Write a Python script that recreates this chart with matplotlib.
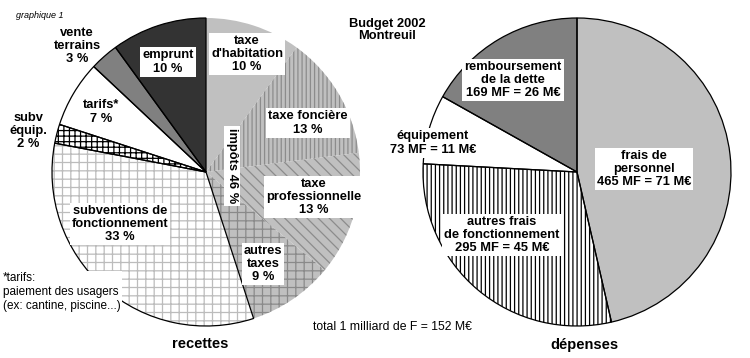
import matplotlib
matplotlib.use('Agg')
import matplotlib.pyplot as plt

plt.rcParams['font.family'] = ['Liberation Sans Narrow', 'Liberation Sans', 'DejaVu Sans']
plt.rcParams['hatch.linewidth'] = 0.9

# recettes (clockwise from 12 o'clock)
rec_labels = ["taxe\nd'habitation", "taxe foncière", "taxe\nprofessionnelle", "autres\ntaxes",
              "subventions de\nfonctionnement", "subv\néquip.", "tarifs*", "vente\nterrains", "emprunt"]
rec_pct = [10, 13, 13, 9, 33, 2, 7, 3, 10]
impots_pct = 46

# dépenses
dep_labels = ["frais de\npersonnel", "autres frais\nde fonctionnement", "équipement", "remboursement\nde la dette"]
dep_mf = [465, 295, 73, 169]
dep_meur = [71, 45, 11, 26]

W, H = 750, 358

# styles
rec_fill = ['#c0c0c0', '#c0c0c0', '#c0c0c0', '#c0c0c0', 'white', 'white', 'white', '#808080', '#333333']
rec_hatch = [None, '||||', '\\\\\\', '++', '++', '+++', None, None, None]
rec_hcol = ['#c0c0c0', '#8c8c8c', '#8c8c8c', '#8a8a8a', '#bcbcbc', 'black', 'white', '#808080', '#333333']
rec_edge = [False, False, False, False, True, True, True, True, True]
# label positions in pixels (x, y from top)
rec_pos = [(247, 54), (308, 123), (314, 197), (263, 264), (120, 224), (28, 131), (101, 112), (77, 46), (168, 62)]
rec_box = [True, True, True, True, True, False, False, False, True]

dep_fill = ['#c0c0c0', 'white', 'white', '#808080']
dep_hatch = [None, '||||', None, None]
dep_pos = [(644, 169), (502, 235), (433, 143), (513, 80)]


def py(y):
    return H - y


fig = plt.figure(figsize=(7.5, 3.58), dpi=100)
ax = fig.add_axes([0, 0, 1, 1])

# left pie
c1, r = (206, py(172)), 154
wedges, _ = ax.pie(rec_pct, radius=r, center=c1, startangle=90, counterclock=False,
                   wedgeprops=dict(linewidth=0))
for w, fc, h, hc in zip(wedges, rec_fill, rec_hatch, rec_hcol):
    w.set_facecolor(fc)
    w.set_edgecolor(hc)
    if h:
        w.set_hatch(h)
outl, _ = ax.pie(rec_pct, radius=r, center=c1, startangle=90, counterclock=False,
                 wedgeprops=dict(fill=False, linewidth=0.9, edgecolor='black'))
for w, e in zip(outl, rec_edge):
    if not e:
        w.set_visible(False)

# right pie
c2 = (577, py(172))
wedges2, _ = ax.pie(dep_mf, radius=r, center=c2, startangle=90, counterclock=False,
                    wedgeprops=dict(linewidth=0))
for w, fc, h in zip(wedges2, dep_fill, dep_hatch):
    w.set_facecolor(fc)
    w.set_edgecolor('black')
    if h:
        w.set_hatch(h)
ax.pie(dep_mf, radius=r, center=c2, startangle=90, counterclock=False,
       wedgeprops=dict(fill=False, linewidth=0.9, edgecolor='black'))

box = dict(boxstyle='square,pad=0.15', fc='white', ec='none')
fs = 9.3

for lab, p, (x, y), b in zip(rec_labels, rec_pct, rec_pos, rec_box):
    ax.text(x, py(y), f"{lab}\n{p} %", ha='center', va='center', fontsize=fs,
            fontweight='bold', linespacing=1.15, bbox=box if b else None)

ax.text(232, py(166), f"impôts {impots_pct} %", rotation=-90, ha='center', va='center',
        fontsize=fs, fontweight='bold', bbox=box)

for lab, mf, me, (x, y) in zip(dep_labels, dep_mf, dep_meur, dep_pos):
    ax.text(x, py(y), f"{lab}\n{mf} MF = {me} M€", ha='center', va='center', fontsize=fs,
            fontweight='bold', linespacing=1.15, bbox=box)

ax.text(16, py(15), "graphique 1", fontsize=6.5, style='italic', ha='left', va='center')
ax.text(387, py(30), "Budget 2002\nMontreuil", fontsize=fs, fontweight='bold',
        ha='center', va='center', linespacing=1.1)
ax.text(3, py(292), "*tarifs:\npaiement des usagers\n(ex: cantine, piscine...)", fontsize=8.5,
        ha='left', va='center', linespacing=1.25,
        bbox=dict(boxstyle='square,pad=0.1', fc='white', ec='none'))
ax.text(313, py(327), "total 1 milliard de F = 152 M€", fontsize=8.8, ha='left', va='center')
ax.text(200, py(344), "recettes", fontsize=10.5, fontweight='bold', ha='center', va='center')
ax.text(584, py(345), "dépenses", fontsize=10.5, fontweight='bold', ha='center', va='center')

ax.set_xlim(0, W)
ax.set_ylim(0, H)
ax.set_aspect('equal')
ax.axis('off')

fig.savefig('out.png', dpi=100, facecolor='white')
